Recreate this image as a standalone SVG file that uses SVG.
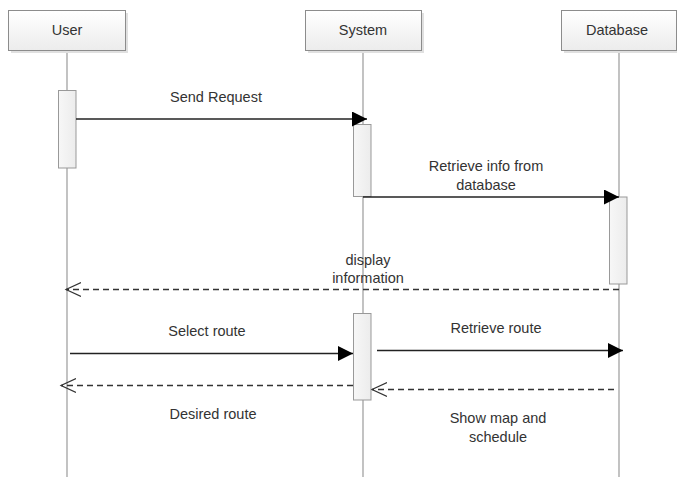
<svg xmlns="http://www.w3.org/2000/svg" width="677" height="477" viewBox="0 0 677 477">
<defs>
  <linearGradient id="boxfill" x1="0" y1="0" x2="0" y2="1">
    <stop offset="0" stop-color="#ffffff"/>
    <stop offset="1" stop-color="#ececec"/>
  </linearGradient>
  <linearGradient id="actfill" x1="0" y1="0" x2="1" y2="0">
    <stop offset="0" stop-color="#f7f7f7"/>
    <stop offset="1" stop-color="#ececec"/>
  </linearGradient>
  <marker id="filled" markerUnits="userSpaceOnUse" markerWidth="16" markerHeight="16" refX="15" refY="7.5" orient="auto">
    <path d="M0,0 L15,7.5 L0,15 Z" fill="#000"/>
  </marker>
  <marker id="open" markerUnits="userSpaceOnUse" markerWidth="17" markerHeight="17" refX="15" refY="8" orient="auto">
    <path d="M0,1 L15,8 L0,15" fill="none" stroke="#333" stroke-width="1.2"/>
  </marker>
</defs>
<style>
  .box { fill: url(#boxfill); stroke: #8c8c8c; stroke-width: 1; }
  .shadow { fill: #e0e0e0; }
  .life { stroke: #9a9a9a; stroke-width: 1.2; fill: none; }
  .act { fill: url(#actfill); stroke: #999; stroke-width: 1; }
  .msg { stroke: #222; stroke-width: 1.6; fill: none; marker-end: url(#filled); }
  .ret { stroke: #333; stroke-width: 1.3; fill: none; stroke-dasharray: 6 4; marker-end: url(#open); }
  text { font-family: "Liberation Sans", Arial, sans-serif; font-size: 14.5px; fill: #333; text-anchor: middle; }
</style>
<rect width="677" height="477" fill="#ffffff"/>

<g id="lifelines">
  <line class="life" x1="67" y1="51" x2="67" y2="477"/>
  <line class="life" x1="363" y1="51" x2="363" y2="477"/>
  <line class="life" x1="619" y1="51" x2="619" y2="477"/>
</g>

<g id="user">
  <rect class="shadow" x="11" y="13" width="117" height="40"/>
  <rect class="box" x="8.5" y="10.5" width="117" height="40"/>
  <text x="67" y="35">User</text>
</g>
<g id="system">
  <rect class="shadow" x="308" y="13" width="116" height="40"/>
  <rect class="box" x="305.5" y="10.5" width="116" height="40"/>
  <text x="363" y="35">System</text>
</g>
<g id="database">
  <rect class="shadow" x="564" y="13" width="116" height="40"/>
  <rect class="box" x="561.5" y="10.5" width="115" height="40"/>
  <text x="617" y="35">Database</text>
</g>

<g id="activations">
  <rect id="act-user" class="act" x="58.5" y="90.5" width="17.5" height="77.5"/>
  <rect id="act-system-1" class="act" x="353.5" y="124.5" width="17.5" height="72"/>
  <rect id="act-database" class="act" x="609.5" y="197" width="17.5" height="87"/>
  <rect id="act-system-2" class="act" x="353.5" y="313.5" width="17.5" height="86.5"/>
</g>

<g id="connectors">
  <line class="msg" x1="76" y1="119" x2="367" y2="119"/>
  <line class="msg" x1="363" y1="197" x2="619" y2="197"/>
  <line class="ret" x1="619" y1="289.5" x2="66" y2="289.5"/>
  <line class="msg" x1="70" y1="353.5" x2="353" y2="353.5"/>
  <line class="msg" x1="377" y1="350.5" x2="623" y2="350.5"/>
  <line class="ret" x1="353" y1="385.5" x2="61" y2="385.5"/>
  <line class="ret" x1="614" y1="389.5" x2="372" y2="389.5"/>
</g>

<g id="labels">
  <text x="216" y="102">Send Request</text>
  <text x="486" y="171">Retrieve info from</text>
  <text x="486" y="190">database</text>
  <text x="368" y="265">display</text>
  <text x="368" y="283">information</text>
  <text x="207" y="336">Select route</text>
  <text x="496" y="333">Retrieve route</text>
  <text x="213" y="419">Desired route</text>
  <text x="498" y="423">Show map and</text>
  <text x="498" y="442">schedule</text>
</g>
</svg>
